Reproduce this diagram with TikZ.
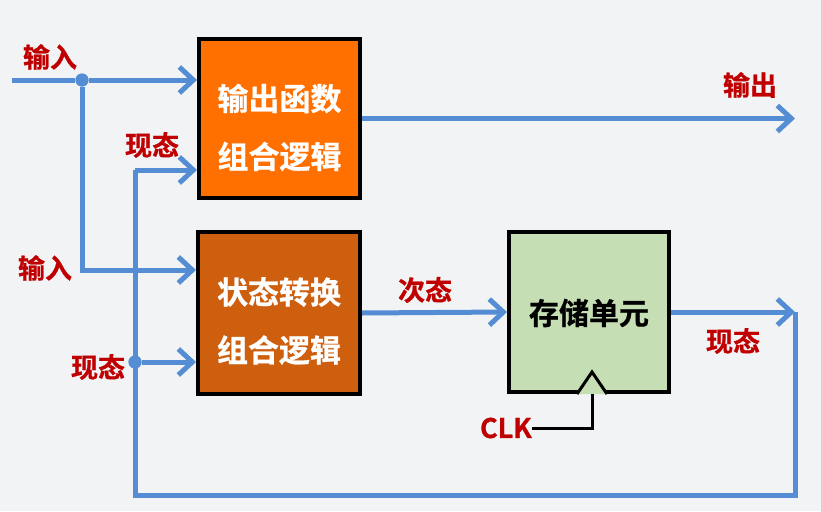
\documentclass[tikz,border=0pt]{standalone}
\usepackage{fontspec}
\newfontfamily\cjk{Noto Sans CJK SC}[BoldFont={* Bold}, BoldFeatures={FakeBold=0.8}]
\usetikzlibrary{arrows.meta,shadows}
\definecolor{bgc}{RGB}{242,243,245}
\definecolor{blu}{RGB}{84,141,212}
\definecolor{orA}{RGB}{255,112,0}
\definecolor{orB}{RGB}{205,95,15}
\definecolor{grn}{RGB}{197,222,180}
\definecolor{lab}{RGB}{192,0,0}
\tikzset{
  box/.style={draw=black, line width=4pt, inner sep=0pt,
    drop shadow={opacity=0.35, shadow xshift=2pt, shadow yshift=-2pt}},
  boxtext/.style={align=center, inner sep=0pt, font=\cjk\bfseries\fontsize{31}{58}\selectfont},
  bl/.style={draw=blu, line width=5pt},
  blarrow/.style={bl, -{Straight Barb[length=14pt,width=26pt,line width=5pt]}},
  lbl/.style={text=lab, font=\cjk\bfseries\fontsize{27}{30}\selectfont, inner sep=0pt},
  dot/.style={circle, fill=blu, minimum size=13pt, inner sep=0pt},
}
\begin{document}
\begin{tikzpicture}[x=1pt,y=-1pt]
\useasboundingbox (0,0) rectangle (821,511);
\fill[bgc] (0,0) rectangle (821,511);
% boxes
\node[box, fill=orA, minimum width=161pt, minimum height=159pt] (f) at (279.5,118.5) {};
\node[box, fill=orB, minimum width=162pt, minimum height=162pt] (s) at (279,313) {};
\node[box, fill=grn, minimum width=160pt, minimum height=160pt] (m) at (589,312) {};
\node[boxtext, text=white] (ft) at ([yshift=-9pt]f.center) {输出函数\\组合逻辑};
\node[boxtext, text=white] (st) at ([yshift=-8pt]s.center) {状态转换\\组合逻辑};
\node[boxtext, text=black, font=\cjk\bfseries\fontsize{30}{36}\selectfont] (mt) at ([yshift=-1pt]m.center) {存储单元};
% coordinates
\coordinate (inL) at (12,80);
\node[dot] (j1) at (82,80) {};
\coordinate (a2) at (196,270);
\node[dot] (j2) at (135,362) {};
\coordinate (a1) at (197,170);
\coordinate (fbx) at (135,170);
\coordinate (out) at (795,118.5);
\coordinate (r1) at (795,312);
\coordinate (b1) at (795,495);
\coordinate (b2) at (135,495);
% blue connectors
\draw[bl] (inL) -- (j1);
\draw[blarrow] (j1) -- (j1 -| f.west);
\draw[blarrow] (j1) |- (a2);
\draw[blarrow] (f.east) -- (out);
\draw[blarrow] (s.east) -- (m.west);
\draw[blarrow] (m.east) -- (r1);
\draw[bl, line join=miter] (r1) -- (b1) -- (b2) -- (fbx);
\draw[blarrow] (fbx) -- (a1);
\draw[blarrow] (j2) -- (j2 -| s.west);
\node[dot] at (j1) {};
\node[dot] at (j2) {};
% clock
\coordinate (tl) at (577,394);
\coordinate (tt) at (592,372);
\coordinate (tr) at (607,394);
\draw[black, line width=3pt, fill=grn, line join=miter] (tl) -- (tt) -- (tr);
\node[lbl, anchor=east] (clk) at (532,428) {CLK};
\coordinate (c1) at (592,394);
\draw[black, line width=3pt] (c1) |- (clk.east);
% labels
\node[lbl] (l1) at (50,57) {输入};
\node[lbl] (l2) at (152,145) {现态};
\node[lbl] (l3) at (45,268) {输入};
\node[lbl] (l4) at (98,367) {现态};
\node[lbl] (l5) at (425,290) {次态};
\node[lbl] (l6) at (750,85) {输出};
\node[lbl] (l7) at (733,341) {现态};
\end{tikzpicture}
\end{document}
